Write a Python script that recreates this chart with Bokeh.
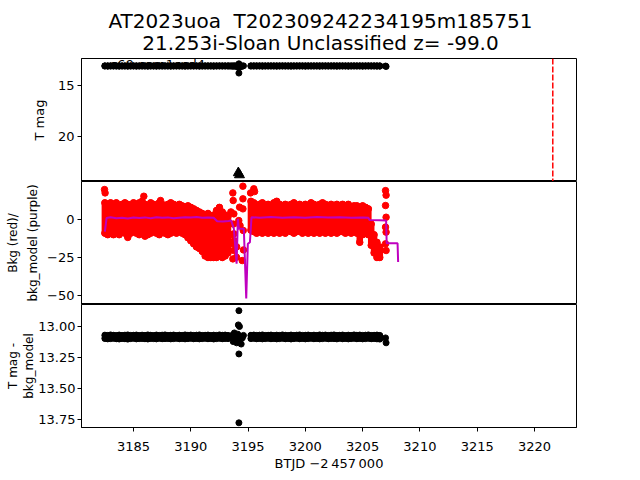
from bokeh.plotting import figure
from bokeh.layouts import column
from bokeh.models import Range1d, FixedTicker, Span, Label, Title, NumeralTickFormatter
from bokeh.embed import file_html
from bokeh.resources import INLINE

FONT = "DejaVu Sans"

# ---------------- data ----------------
title_line1 = "AT2023uoa \u00a0T202309242234195m185751"
title_line2 = "21.253i-Sloan Unclassified z= -99.0"
sector_text = "s69 cam1ccd4"

# orbit 1 sampling (BTJD - 2457000)
t1 = [3182.50, 3182.75, 3183.00, 3183.25, 3183.50, 3183.75, 3184.00, 3184.25,
      3184.50, 3184.75, 3185.00, 3185.25, 3185.50, 3185.75, 3186.00, 3186.25,
      3186.50, 3186.75, 3187.00, 3187.25, 3187.50, 3187.75, 3188.00, 3188.25,
      3188.50, 3188.75, 3189.00, 3189.25, 3189.50, 3189.75, 3190.00, 3190.25,
      3190.50, 3190.75, 3191.00, 3191.25, 3191.50, 3191.75, 3192.00, 3192.25,
      3192.50, 3192.75, 3193.00, 3193.25]
bkg_hi1 = [11, 10, 11, 10, 11, 9, 10, 11, 10, 9, 11, 10, 11, 12, 10, 9,
           11, 10, 9, 11, 10, 9, 10, 11, 10, 9, 10, 9, 8, 9, 8, 7,
           6, 5, 4, 3, 4, 2, 3, 6, 8, 5, 3, 2]
bkg_lo1 = [-9, -10, -9, -10, -9, -10, -8, -9, -11, -9, -8, -9, -10, -9, -8, -10,
           -9, -8, -9, -10, -8, -9, -10, -9, -8, -9, -8, -9, -10, -12, -14, -16,
           -18, -19, -21, -24, -25, -25, -25, -25, -24, -25, -24, -22]
mag_hi1 = [13.068, 13.070, 13.066, 13.069, 13.071, 13.067, 13.070, 13.068,
           13.066, 13.070, 13.069, 13.067, 13.071, 13.068, 13.070, 13.066,
           13.069, 13.071, 13.067, 13.070, 13.068, 13.066, 13.070, 13.069,
           13.067, 13.071, 13.068, 13.070, 13.066, 13.069, 13.067, 13.070,
           13.068, 13.066, 13.070, 13.069, 13.067, 13.071, 13.068, 13.070,
           13.066, 13.069, 13.067, 13.070]
mag_lo1 = [13.095, 13.098, 13.096, 13.094, 13.097, 13.099, 13.095, 13.097,
           13.100, 13.096, 13.094, 13.098, 13.096, 13.095, 13.097, 13.099,
           13.095, 13.096, 13.098, 13.094, 13.097, 13.096, 13.095, 13.098,
           13.096, 13.094, 13.097, 13.095, 13.098, 13.096, 13.094, 13.097,
           13.095, 13.098, 13.096, 13.094, 13.097, 13.095, 13.099, 13.096,
           13.094, 13.097, 13.095, 13.096]

# orbit 2 sampling
t2 = [3195.25, 3195.50, 3195.75, 3196.00, 3196.25, 3196.50, 3196.75, 3197.00,
      3197.25, 3197.50, 3197.75, 3198.00, 3198.25, 3198.50, 3198.75, 3199.00,
      3199.25, 3199.50, 3199.75, 3200.00, 3200.25, 3200.50, 3200.75, 3201.00,
      3201.25, 3201.50, 3201.75, 3202.00, 3202.25, 3202.50, 3202.75, 3203.00,
      3203.25, 3203.50, 3203.75, 3204.00, 3204.25, 3204.50, 3204.75, 3205.00,
      3205.25, 3205.50, 3205.75, 3206.00, 3206.25, 3206.50]
bkg_hi2 = [12, 11, 9, 10, 11, 9, 10, 9, 11, 12, 10, 9, 10, 9, 10, 11,
           9, 10, 9, 10, 9, 11, 10, 9, 10, 11, 10, 9, 10, 9, 10, 9,
           10, 9, 10, 8, 9, 9, 8, 9, 8, 7, -3, -10, -15, -18]
bkg_lo2 = [-7, -8, -9, -8, -9, -8, -9, -8, -9, -8, -9, -8, -9, -7, -8, -9,
           -8, -7, -9, -8, -9, -8, -9, -8, -9, -8, -9, -8, -9, -8, -9, -8,
           -8, -9, -8, -9, -8, -9, -15, -10, -9, -10, -17, -22, -25, -25]
mag_hi2 = [13.069, 13.067, 13.070, 13.068, 13.066, 13.070, 13.069, 13.067,
           13.071, 13.068, 13.070, 13.066, 13.069, 13.071, 13.067, 13.070,
           13.068, 13.066, 13.070, 13.069, 13.067, 13.071, 13.068, 13.070,
           13.066, 13.069, 13.067, 13.070, 13.068, 13.066, 13.070, 13.069,
           13.067, 13.071, 13.068, 13.070, 13.066, 13.069, 13.067, 13.070,
           13.068, 13.066, 13.070, 13.069, 13.067, 13.070]
mag_lo2 = [13.096, 13.094, 13.097, 13.095, 13.098, 13.096, 13.094, 13.097,
           13.095, 13.098, 13.096, 13.094, 13.097, 13.095, 13.099, 13.096,
           13.094, 13.097, 13.095, 13.098, 13.096, 13.094, 13.097, 13.095,
           13.098, 13.096, 13.094, 13.097, 13.095, 13.096, 13.098, 13.094,
           13.097, 13.095, 13.098, 13.096, 13.094, 13.097, 13.095, 13.098,
           13.096, 13.094, 13.097, 13.095, 13.098, 13.100]

# scattered background points (outliers, gap, end of sector)
bkg_sc_t = [3182.47, 3182.52, 3185.90, 3187.36, 3184.50, 3186.00,
            3193.50, 3193.55, 3193.62, 3193.67, 3193.67, 3193.70, 3193.72, 3193.76,
            3193.76, 3193.76, 3193.80, 3193.99, 3194.00, 3194.19, 3194.26, 3194.30,
            3194.49, 3194.55, 3194.55, 3194.55, 3194.58, 3194.60, 3195.22, 3195.37,
            3195.57, 3195.50,
            3207.00, 3207.05, 3207.00, 3207.05, 3207.00, 3207.05, 3207.00, 3207.05]
bkg_sc_v = [19.7, 17.5, 15.3, 12.5, -11.8, -11.0,
            5.0, -10.0, -16.0, 17.5, -25.9, 12.5, -3.0, 3.7,
            -9.4, -20.4, -14.0, -24.8, -18.0, -0.7, 8.1, -4.0,
            -27.0, 21.9, 13.6, 7.0, -7.2, -20.0, 17.5, 3.7,
            18.4, 20.2,
            19.0, 16.0, 9.2, 1.5, -5.0, -8.3, -16.0, -20.4]

# background model (purple)
model_t = [3182.50, 3182.65, 3183.00, 3183.50, 3184.00, 3184.50, 3185.00, 3185.50,
           3186.00, 3186.50, 3187.00, 3187.50, 3188.00, 3188.50, 3189.00, 3189.50,
           3190.00, 3190.50, 3191.00, 3191.50, 3192.00, 3192.30, 3192.80, 3193.30,
           3193.53, 3193.76, 3194.00, 3194.11, 3194.20, 3194.63, 3194.84, 3194.98,
           3195.16, 3195.30, 3196.00, 3197.00, 3198.00, 3199.00, 3200.00, 3201.00,
           3202.00, 3203.00, 3204.00, 3205.00, 3205.50, 3205.60, 3206.50, 3207.05,
           3207.10, 3208.05, 3208.10]
model_v = [-8.0, 1.0, 1.5, 0.8, 1.2, 0.6, 1.3, 1.0,
           1.4, 0.9, 1.5, 1.1, 1.4, 0.9, 1.2, 1.5,
           1.3, 1.6, 1.2, 1.4, 1.2, -1.1, -1.3, -1.0,
           -0.7, -6.1, -29.0, 0.4, -6.1, -6.1, -52.0, -16.0,
           -15.0, 1.5, 1.2, 1.6, 1.1, 1.5, 1.2, 1.6,
           1.3, 1.5, 1.2, 1.4, 1.1, -0.3, -0.5, -0.7,
           -15.6, -15.6, -28.0]

# scattered magnitude points (gap and end of sector)
mag_sc_t = [3193.40, 3193.50, 3193.60, 3193.70, 3193.80, 3193.90, 3194.00, 3194.10,
            3194.20, 3194.30, 3194.40, 3194.50, 3194.60, 3194.20, 3194.15, 3194.25,
            3194.20, 3194.20, 3207.00, 3207.05]
mag_sc_v = [13.08, 13.09, 13.07, 13.12, 13.05, 13.10, 13.13, 13.06,
            13.11, 13.08, 13.14, 13.09, 13.07, 12.87, 12.985, 12.998,
            13.22, 13.777, 13.09, 13.13]

# upper limits (triangles) in the T mag panel
lim_t = [3194.15, 3194.25]
lim_v = [23.55, 23.75]

# discovery epoch marker
disc_t = 3221.6

x_ticks = [3185, 3190, 3195, 3200, 3205, 3210, 3215, 3220]
top_ticks = [15, 20]
mid_ticks = [0, -25, -50]
mid_tick_labels = {0: "0", -25: "\u221225", -50: "\u221250"}
bot_ticks = [13.00, 13.25, 13.50, 13.75]
x_label = "BTJD \u22122\u2009457\u2009000"
top_ylabel = ["T mag"]
mid_ylabel = ["Bkg (red)/", "bkg_model (purple)"]
bot_ylabel = ["T mag -", "bkg_model"]

# ---------------- figures ----------------
xr = Range1d(3180.46, 3223.67)
FW, FH = 495, 123
LEFT, RIGHT = 81, 64


def make(yr, yticks, ylabel_lines, standoffs, label_size="13px", bottom=0):
    p = figure(frame_width=FW, frame_height=FH, x_range=xr, y_range=yr,
               output_backend="svg", toolbar_location=None,
               min_border_left=LEFT, min_border_right=RIGHT,
               min_border_top=0, min_border_bottom=bottom)
    p.grid.visible = False
    p.outline_line_color = "black"
    p.outline_line_alpha = 1.0
    p.outline_line_width = 1
    p.yaxis.ticker = FixedTicker(ticks=yticks)
    p.xaxis.ticker = FixedTicker(ticks=x_ticks)
    for ax in (p.xaxis, p.yaxis):
        ax.major_tick_out = 4
        ax.major_tick_in = 0
        ax.minor_tick_out = 0
        ax.minor_tick_in = 0
        ax.major_label_text_font = FONT
        ax.major_label_text_font_size = "13px"
        ax.major_label_text_color = "black"
        ax.axis_label_text_font = FONT
        ax.axis_label_text_font_size = "13px"
        ax.axis_label_text_font_style = "normal"
        ax.axis_label_text_color = "black"
        ax.axis_line_color = "black"
        ax.major_tick_line_color = "black"
        ax.major_label_standoff = 3
        ax.axis_label_standoff = 5
    # y label lines as left titles: last line is closest to the axis
    for line, so in zip(reversed(ylabel_lines), standoffs):
        p.add_layout(Title(text=line, align="center", text_font=FONT,
                           text_font_size=label_size, text_font_style="normal",
                           text_color="black", standoff=so), "left")
    return p


# title strip (same frame as the panels)
pt = figure(frame_width=FW, frame_height=58, x_range=Range1d(0, FW),
            y_range=Range1d(0, 58), output_backend="svg", toolbar_location=None,
            min_border_left=LEFT, min_border_right=RIGHT,
            min_border_top=0, min_border_bottom=0)
pt.axis.visible = False
pt.grid.visible = False
pt.outline_line_color = None
for txt, yy in ((title_line1, 38), (title_line2, 16)):
    pt.add_layout(Label(x=320 - LEFT, y=yy, text=txt, text_font=FONT,
                        text_font_size="20px", text_color="black",
                        text_align="center", text_baseline="middle"))

# top: T mag
p1 = make(Range1d(24.4, 12.35), top_ticks, top_ylabel, [16])
p1.xaxis.visible = False
for tt, hi, lo in ((t1, mag_hi1, mag_lo1), (t2, mag_hi2, mag_lo2)):
    p1.segment(x0=tt, y0=hi, x1=tt, y1=lo, line_width=6, line_cap="round", color="black")
    p1.scatter(tt, hi, size=6, color="black")
    p1.scatter(tt, lo, size=6, color="black")
p1.scatter(mag_sc_t, mag_sc_v, size=6, color="black")
p1.scatter(lim_t, lim_v, marker="triangle", size=10, color="black")
p1.add_layout(Span(location=disc_t, dimension="height", line_color="red",
                   line_width=1.5, line_dash="6 2"))
p1.add_layout(Label(x=3183.0, y=12.89, text=sector_text, text_font=FONT,
                    text_font_size="13px", text_color="black",
                    text_baseline="middle"))

# middle: background
p2 = make(Range1d(-55.9, 25), mid_ticks, mid_ylabel, [9, 0], label_size="12px")
p2.xaxis.visible = False
p2.yaxis.major_label_overrides = mid_tick_labels
for tt, hi, lo in ((t1, bkg_hi1, bkg_lo1), (t2, bkg_hi2, bkg_lo2)):
    p2.segment(x0=tt, y0=hi, x1=tt, y1=lo, line_width=6.5, line_cap="round", color="red")
    p2.scatter(tt, hi, size=6.5, color="red")
    p2.scatter(tt, lo, size=6.5, color="red")
p2.scatter(bkg_sc_t, bkg_sc_v, size=6.5, color="red")
p2.line(model_t, model_v, line_color="#bf00bf", line_width=2)

# bottom: T mag - bkg_model
p3 = make(Range1d(13.815, 12.82), bot_ticks, bot_ylabel, [0, 0],
          label_size="12px", bottom=53)
p3.yaxis.formatter = NumeralTickFormatter(format="0.00")
p3.yaxis.major_label_standoff = 2
p3.xaxis.axis_label = x_label
p3.xaxis.major_label_standoff = 10
p3.xaxis.axis_label_standoff = 2
for tt, hi, lo in ((t1, mag_hi1, mag_lo1), (t2, mag_hi2, mag_lo2)):
    p3.segment(x0=tt, y0=hi, x1=tt, y1=lo, line_width=6, line_cap="round", color="black")
    p3.scatter(tt, hi, size=6, color="black")
    p3.scatter(tt, lo, size=6, color="black")
p3.scatter(mag_sc_t, mag_sc_v, size=6, color="black")

layout = column(pt, p1, p2, p3, spacing=0)
open("out.html", "w").write(file_html(layout, INLINE))
